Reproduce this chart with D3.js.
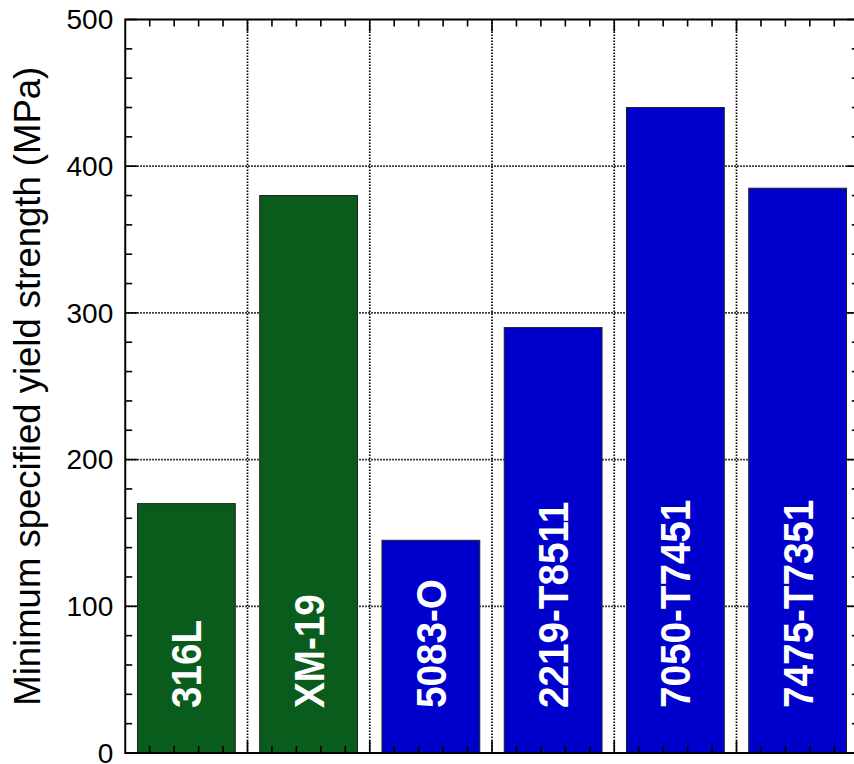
<!DOCTYPE html>
<html>
<head>
<meta charset="utf-8">
<script src="https://cdn.jsdelivr.net/npm/d3@7"></script>
<style>
  html, body { margin: 0; padding: 0; background: #fff; }
  svg { display: block; }
</style>
</head>
<body>
<svg id="chart" width="854" height="764"></svg>
<script>
// Alloy grades and their minimum specified yield strength (MPa)
const alloys = ["316L", "XM-19", "5083-O", "2219-T8511", "7050-T7451", "7475-T7351"];
const yieldMPa = [170, 380, 145, 290, 440, 385];
const alloyFamily = ["steel", "steel", "aluminum", "aluminum", "aluminum", "aluminum"];
const yTicks = [0, 100, 200, 300, 400, 500];

const familyColor = { steel: "#0a5c1c", aluminum: "#0000cc" };

const svg = d3.select("#chart");
const plotL = 125.25, plotR = 858.75, plotT = 19.5, plotB = 753;

const x = d3.scaleBand().domain(alloys).range([plotL, plotR])
  .paddingInner(0.2).paddingOuter(0.1);
const y = d3.scaleLinear().domain([0, 500]).range([plotB, plotT]);

const step = x.step();
const bounds = d3.range(1, alloys.length).map(i => plotL + i * step);

// dotted grid: vertical lines between categories, horizontal at major ticks
const grid = svg.append("g")
  .attr("stroke", "#000").attr("stroke-width", 1.7)
  .attr("stroke-dasharray", "1.5,1.5");
grid.selectAll("line.v").data(bounds).join("line")
  .attr("class", "v")
  .attr("x1", d => d).attr("x2", d => d)
  .attr("y1", plotT).attr("y2", plotB);
grid.selectAll("line.h").data(yTicks.slice(1, -1)).join("line")
  .attr("class", "h")
  .attr("x1", plotL).attr("x2", plotR)
  .attr("y1", d => y(d)).attr("y2", d => y(d));

// bars
svg.append("g").selectAll("rect").data(alloys).join("rect")
  .attr("x", d => x(d))
  .attr("width", x.bandwidth())
  .attr("y", (d, i) => y(yieldMPa[i]))
  .attr("height", (d, i) => plotB - y(yieldMPa[i]))
  .attr("fill", (d, i) => familyColor[alloyFamily[i]])
  .attr("stroke", "#222").attr("stroke-width", 1);

// rotated in-bar labels
svg.append("g").selectAll("text").data(alloys).join("text")
  .attr("transform", d => `translate(${x(d) + x.bandwidth() / 2 + 15},708) rotate(-90) scale(0.92,1)`)
  .attr("text-anchor", "start")
  .attr("fill", "#fff")
  .attr("font-family", "'Liberation Sans', Arial, Helvetica, sans-serif")
  .attr("font-weight", "bold")
  .attr("font-size", 42)
  .text(d => d);

// ticks on all four sides, pointing inward
const ticks = svg.append("g").attr("stroke", "#000").attr("stroke-width", 1.6);
const yMinor = d3.range(0, 501, 20).filter(v => v % 100 !== 0);
const xMinor = d3.range(0, alloys.length * 5).filter(k => k % 5 !== 0).map(k => plotL + k * step / 5);
const minorLen = 7, majorLen = 12;

function tickSet(cls, data, attrs) {
  const sel = ticks.selectAll("line." + cls).data(data).join("line").attr("class", cls);
  Object.entries(attrs).forEach(([k, v]) => sel.attr(k, v));
}
tickSet("yl", yMinor, { x1: plotL, x2: plotL + minorLen, y1: d => y(d), y2: d => y(d) });
tickSet("yr", yMinor, { x1: plotR, x2: plotR - minorLen, y1: d => y(d), y2: d => y(d) });
tickSet("ylM", yTicks, { x1: plotL, x2: plotL + majorLen, y1: d => y(d), y2: d => y(d) });
tickSet("yrM", yTicks, { x1: plotR, x2: plotR - majorLen, y1: d => y(d), y2: d => y(d) });
tickSet("xt", xMinor, { x1: d => d, x2: d => d, y1: plotT, y2: plotT + minorLen });
tickSet("xb", xMinor, { x1: d => d, x2: d => d, y1: plotB, y2: plotB - minorLen });
tickSet("xtM", bounds, { x1: d => d, x2: d => d, y1: plotT, y2: plotT + majorLen });
tickSet("xbM", bounds, { x1: d => d, x2: d => d, y1: plotB, y2: plotB - majorLen });

// frame
svg.append("rect")
  .attr("x", plotL).attr("y", plotT)
  .attr("width", plotR - plotL).attr("height", plotB - plotT)
  .attr("fill", "none").attr("stroke", "#000").attr("stroke-width", 2);

// y tick labels
svg.append("g").selectAll("text").data(yTicks).join("text")
  .attr("x", plotL - 12)
  .attr("y", d => y(d))
  .attr("dy", "0.35em")
  .attr("text-anchor", "end")
  .attr("font-family", "'Liberation Sans', Arial, Helvetica, sans-serif")
  .attr("font-size", 28)
  .attr("fill", "#000")
  .text(d => d);

// y axis title
svg.append("text")
  .attr("transform", `translate(40,${(plotT + plotB) / 2}) rotate(-90)`)
  .attr("text-anchor", "middle")
  .attr("font-family", "'Liberation Sans', Arial, Helvetica, sans-serif")
  .attr("font-size", 36.5)
  .attr("fill", "#000")
  .text("Minimum specified yield strength (MPa)");
</script>
</body>
</html>
